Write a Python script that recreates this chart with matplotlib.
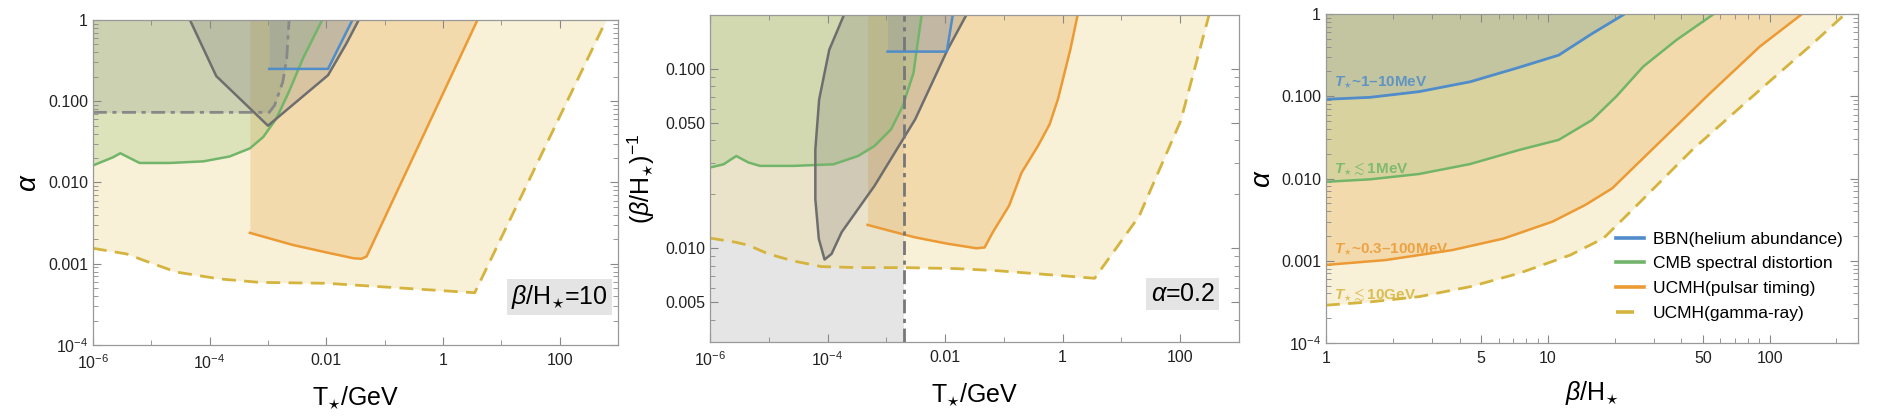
import numpy as np
import matplotlib
matplotlib.use('Agg')
import matplotlib.pyplot as plt
from matplotlib.ticker import FixedLocator, FixedFormatter, NullFormatter, LogLocator

plt.rcParams['font.family'] = ['Liberation Sans', 'DejaVu Sans']
plt.rcParams['mathtext.fontset'] = 'custom'
plt.rcParams['mathtext.rm'] = 'Liberation Sans'
plt.rcParams['mathtext.it'] = 'Liberation Sans:italic'
plt.rcParams['mathtext.bf'] = 'Liberation Sans:bold'
plt.rcParams['mathtext.bfit'] = 'Liberation Sans:italic:bold'

# ---- panel 1 : alpha vs T*, beta/H*=10 ----
p1_gamma_T = [1e-6, 3.8e-6, 8.3e-6, 2.7e-5, 1.5e-4, 7.2e-4, 1e-2, 0.14, 3.5, 630]
p1_gamma_a = [1.55e-3, 1.32e-3, 1.07e-3, 7.9e-4, 6.5e-4, 5.9e-4, 5.75e-4, 5.1e-4, 4.4e-4, 1.0]
p1_pulsar_T = [4.9e-4, 2.7e-3, 1.0e-2, 2.9e-2, 4.0e-2, 4.9e-2, 3.9]
p1_pulsar_a = [2.4e-3, 1.7e-3, 1.38e-3, 1.17e-3, 1.15e-3, 1.23e-3, 1.0]
p1_cmb_T = [1e-6, 2.2e-6, 2.95e-6, 6.3e-6, 2.1e-5, 7.8e-5, 2.2e-4, 4.9e-4, 8.3e-4,
            1.4e-3, 2.3e-3, 4.0e-3, 8.5e-3]
p1_cmb_a = [0.0162, 0.0204, 0.0229, 0.0174, 0.0174, 0.0182, 0.0209, 0.0263, 0.0363,
            0.0617, 0.132, 0.339, 1.0]
p1_gw_T = [4.6e-5, 1.3e-4, 1.0e-3, 1.07e-2, 2.2e-2, 3.6e-2]
p1_gw_a = [1.0, 0.204, 0.050, 0.209, 0.51, 1.0]
p1_bbn_T = [1.05e-3, 1.07e-2, 2.8e-2]
p1_bbn_a = [0.25, 0.25, 1.0]
p1_dd_T = [1e-6, 1.05e-3, 1.3e-3, 1.8e-3, 2.1e-3, 2.3e-3]
p1_dd_a = [0.073, 0.073, 0.089, 0.174, 0.34, 1.0]

# ---- panel 2 : (beta/H*)^-1 vs T*, alpha=0.2 ----
p2_gamma_T = [1e-6, 2.75e-6, 4.5e-6, 9.8e-6, 2.6e-5, 7.9e-5, 3.3e-4, 2.0e-3, 1.55e-2,
              7.6e-2, 0.38, 3.5, 20, 102, 310]
p2_gamma_y = [0.0114, 0.0108, 0.0104, 0.0093, 0.0085, 0.0079, 0.0078, 0.0078, 0.0077,
              0.0075, 0.0072, 0.0068, 0.0151, 0.0513, 0.2]
p2_pulsar_T = [4.8e-4, 1.4e-3, 3.1e-3, 1.1e-2, 3.4e-2, 4.7e-2, 6.5e-2, 0.123, 0.2,
               0.38, 0.6, 0.83, 1.35, 1.8]
p2_pulsar_y = [0.0135, 0.0123, 0.0115, 0.0106, 0.0100, 0.0101, 0.0123, 0.0173, 0.0264,
               0.0372, 0.0491, 0.0676, 0.128, 0.2]
p2_cmb_T = [1e-6, 1.7e-6, 2.8e-6, 4.5e-6, 7.1e-6, 2.6e-5, 1.26e-4, 3.3e-4, 6.3e-4,
            1.2e-3, 1.9e-3, 2.9e-3, 3.6e-3, 4.0e-3]
p2_cmb_y = [0.0282, 0.0294, 0.0327, 0.0301, 0.0288, 0.0288, 0.0294, 0.0327, 0.0372,
            0.046, 0.0621, 0.095, 0.158, 0.2]
p2_gw_T = [1.9e-4, 1.07e-4, 7.2e-5, 6.2e-5, 6.2e-5, 7.1e-5, 8.9e-5, 1.17e-4, 1.74e-4,
           6.3e-4, 3.1e-3, 1.1e-2, 2.3e-2]
p2_gw_y = [0.2, 0.128, 0.0676, 0.0356, 0.0188, 0.0113, 0.00865, 0.0093, 0.0123,
           0.0223, 0.0524, 0.128, 0.2]
p2_bbn_T = [1.05e-3, 1.07e-2, 1.35e-2]
p2_bbn_y = [0.125, 0.125, 0.2]
p2_dd_T = 2.0e-3

# ---- panel 3 : alpha vs beta/H* ----
p3_bbn_b = [1, 1.58, 2.63, 4.47, 7.41, 11.2, 15.8, 22.2]
p3_bbn_a = [0.0918, 0.097, 0.1138, 0.150, 0.224, 0.316, 0.575, 1.0]
p3_cmb_b = [1, 1.58, 2.63, 4.47, 7.41, 11.2, 15.8, 20.4, 26.9, 38.0, 56.0]
p3_cmb_a = [0.00912, 0.00977, 0.01135, 0.0150, 0.0222, 0.0295, 0.0513, 0.100, 0.229, 0.483, 1.0]
p3_pulsar_b = [1, 1.86, 3.72, 6.31, 10.5, 14.8, 19.5, 31.6, 53.7, 90.2, 140]
p3_pulsar_a = [8.9e-4, 1.02e-3, 1.35e-3, 1.86e-3, 2.99e-3, 4.79e-3, 7.59e-3, 0.0269,
               0.108, 0.401, 1.0]
p3_gamma_b = [1, 1.58, 2.63, 4.47, 7.41, 12.6, 17.8, 24.0, 44.7, 90.2, 151, 219]
p3_gamma_a = [2.88e-4, 3.16e-4, 3.66e-4, 4.84e-4, 7.03e-4, 1.17e-3, 1.87e-3, 4.14e-3,
              0.0222, 0.119, 0.401, 1.0]

legend_labels = ['BBN(helium abundance)', 'CMB spectral distortion',
                 'UCMH(pulsar timing)', 'UCMH(gamma-ray)']
curve_labels = [r'$\mathbfit{T}_{\star}$~1–10MeV', r'$\mathbfit{T}_{\star}\lesssim$1MeV',
                r'$\mathbfit{T}_{\star}$~0.3–100MeV', r'$\mathbfit{T}_{\star}\lesssim$10GeV']
label_y = [0.149, 0.0134, 0.00139, 0.00039]

# colours
c_blue, c_green, c_orange, c_gold, c_gray = '#4f8cc9', '#72b56a', '#eb9a34', '#d4b43e', '#6e6e6e'
f_yel, f_org, f_grn, f_blu = '#f2e2a8', '#eab060', '#9cc47c', '#6f8fb0'

fig = plt.figure(figsize=(19.04, 4.18), dpi=100)
ax1 = fig.add_axes([0.0488, 0.1746, 0.2758, 0.7776])
ax2 = fig.add_axes([0.3729, 0.1818, 0.2778, 0.7823])
ax3 = fig.add_axes([0.6964, 0.1794, 0.2794, 0.7871])


def style_axes(ax):
    ax.set_xscale('log')
    ax.set_yscale('log')
    ax.tick_params(which='both', direction='in', top=True, right=True,
                   colors='#888888', labelcolor='#222222', labelsize=11.5)
    ax.tick_params(which='major', length=6, width=0.8)
    ax.tick_params(which='minor', length=3.5, width=0.6)
    ax.tick_params(axis='x', which='major', pad=6)
    for s in ax.spines.values():
        s.set_color('#999999')
        s.set_linewidth(0.9)


def temp_xaxis(ax):
    ax.set_xlim(1e-6, 1e3)
    ax.xaxis.set_major_locator(FixedLocator([1e-6, 1e-4, 1e-2, 1, 100]))
    ax.xaxis.set_major_formatter(FixedFormatter([r'$10^{-6}$', r'$10^{-4}$', '0.01', '1', '100']))
    ax.xaxis.set_minor_locator(FixedLocator([1e-5, 1e-3, 1e-1, 10, 1000]))
    ax.xaxis.set_minor_formatter(NullFormatter())
    ax.set_xlabel(r'T$_{\star}$/GeV', fontsize=18, labelpad=9)


def alpha_yaxis(ax):
    ax.set_ylim(1e-4, 1)
    ax.yaxis.set_major_locator(FixedLocator([1e-4, 1e-3, 1e-2, 1e-1, 1]))
    ax.yaxis.set_major_formatter(FixedFormatter([r'$10^{-4}$', '0.001', '0.010', '0.100', '1']))
    ax.yaxis.set_minor_locator(LogLocator(base=10, subs=np.arange(2, 10), numticks=20))
    ax.yaxis.set_minor_formatter(NullFormatter())


# ---------------- panel 1 ----------------
ax = ax1
style_axes(ax)
ax.fill_between(p1_gamma_T, p1_gamma_a, 1, color=f_yel, alpha=0.45, lw=0)
ax.fill_between(p1_pulsar_T, p1_pulsar_a, 1, color=f_org, alpha=0.35, lw=0)
ax.fill_between(p1_cmb_T, p1_cmb_a, 1, color=f_grn, alpha=0.3, lw=0)
ax.fill_between(p1_dd_T, p1_dd_a, 1, color='#808080', alpha=0.17, lw=0)
ax.fill_between(p1_gw_T, p1_gw_a, 1, color='#707070', alpha=0.2, lw=0)
ax.fill_between(p1_bbn_T, p1_bbn_a, 1, color=f_blu, alpha=0.2, lw=0)
ax.plot(p1_gamma_T, p1_gamma_a, color=c_gold, lw=2, dashes=(5, 3))
ax.plot(p1_pulsar_T, p1_pulsar_a, color=c_orange, lw=1.8)
ax.plot(p1_cmb_T, p1_cmb_a, color=c_green, lw=1.8)
ax.plot(p1_dd_T, p1_dd_a, color='#888888', lw=2, dashes=(5, 2, 1.5, 2))
ax.plot(p1_gw_T, p1_gw_a, color=c_gray, lw=1.8)
ax.plot(p1_bbn_T, p1_bbn_a, color=c_blue, lw=1.8)
temp_xaxis(ax)
alpha_yaxis(ax)
ax.set_ylabel(r'$\alpha$', fontsize=20, labelpad=4)
ax.text(0.888, 0.148, r'$\beta$/H$_{\star}$=10', transform=ax.transAxes, fontsize=18,
        ha='center', va='center', bbox=dict(facecolor='#e4e4e4', edgecolor='none', pad=3))

# ---------------- panel 2 ----------------
ax = ax2
style_axes(ax)
ax.axvspan(1e-6, p2_dd_T, color='#e5e5e5', lw=0)
ax.fill_between(p2_gamma_T, p2_gamma_y, 1, color=f_yel, alpha=0.45, lw=0)
ax.fill_between(p2_pulsar_T, p2_pulsar_y, 1, color=f_org, alpha=0.35, lw=0)
ax.fill_between(p2_cmb_T, p2_cmb_y, 1, color=f_grn, alpha=0.3, lw=0)
ax.fill(p2_gw_T, p2_gw_y, color='#707070', alpha=0.22, lw=0)
ax.fill_between(p2_bbn_T, p2_bbn_y, 1, color=f_blu, alpha=0.2, lw=0)
ax.plot(p2_gamma_T, p2_gamma_y, color=c_gold, lw=2, dashes=(5, 3))
ax.plot(p2_pulsar_T, p2_pulsar_y, color=c_orange, lw=1.8)
ax.plot(p2_cmb_T, p2_cmb_y, color=c_green, lw=1.8)
ax.plot(p2_gw_T, p2_gw_y, color=c_gray, lw=1.8)
ax.plot(p2_bbn_T, p2_bbn_y, color=c_blue, lw=1.8)
ax.axvline(p2_dd_T, color='#777777', lw=2, dashes=(5, 2, 1.5, 2))
temp_xaxis(ax)
ax.set_ylim(0.003, 0.2)
ax.yaxis.set_major_locator(FixedLocator([0.005, 0.01, 0.05, 0.1]))
ax.yaxis.set_major_formatter(FixedFormatter(['0.005', '0.010', '0.050', '0.100']))
ax.yaxis.set_minor_locator(FixedLocator([0.003, 0.004, 0.006, 0.007, 0.008, 0.009,
                                         0.02, 0.03, 0.04, 0.06, 0.07, 0.08, 0.09, 0.2]))
ax.yaxis.set_minor_formatter(NullFormatter())
ax.set_ylabel(r'$(\beta/\mathrm{H}_{\star})^{-1}$', fontsize=18, labelpad=6)
ax.text(0.894, 0.147, r'$\alpha$=0.2', transform=ax.transAxes, fontsize=18,
        ha='center', va='center', bbox=dict(facecolor='#e4e4e4', edgecolor='none', pad=3))

# ---------------- panel 3 ----------------
ax = ax3
style_axes(ax)
ax.fill_between(p3_gamma_b, p3_gamma_a, 1, color=f_yel, alpha=0.45, lw=0)
ax.fill_between(p3_pulsar_b, p3_pulsar_a, 1, color=f_org, alpha=0.35, lw=0)
ax.fill_between(p3_cmb_b, p3_cmb_a, 1, color=f_grn, alpha=0.3, lw=0)
ax.fill_between(p3_bbn_b, p3_bbn_a, 1, color=f_blu, alpha=0.2, lw=0)
h_b, = ax.plot(p3_bbn_b, p3_bbn_a, color=c_blue, lw=2)
h_c, = ax.plot(p3_cmb_b, p3_cmb_a, color=c_green, lw=1.8)
h_p, = ax.plot(p3_pulsar_b, p3_pulsar_a, color=c_orange, lw=1.8)
h_g, = ax.plot(p3_gamma_b, p3_gamma_a, color=c_gold, lw=2, dashes=(5, 3))
ax.set_xlim(1, 250)
ax.xaxis.set_major_locator(FixedLocator([1, 5, 10, 50, 100]))
ax.xaxis.set_major_formatter(FixedFormatter(['1', '5', '10', '50', '100']))
ax.xaxis.set_minor_locator(FixedLocator([2, 3, 4, 6, 7, 8, 9, 20, 30, 40, 60, 70, 80, 90, 200]))
ax.xaxis.set_minor_formatter(NullFormatter())
alpha_yaxis(ax)
ax.set_xlabel(r'$\beta$/H$_{\star}$', fontsize=18, labelpad=9)
ax.set_ylabel(r'$\alpha$', fontsize=20, labelpad=4)
label_c = [c_blue, c_green, c_orange, c_gold]
for txt, yy, cc in zip(curve_labels, label_y, label_c):
    ax.text(1.09, yy, txt, color=cc, fontsize=11, fontweight='bold', alpha=0.85,
            ha='left', va='center')
leg = ax.legend([h_b, h_c, h_p, h_g], legend_labels, loc='lower right',
                bbox_to_anchor=(1.0, 0.02), frameon=False, fontsize=12.5,
                handlelength=1.6, handletextpad=0.5, labelspacing=0.55)
for h in leg.legend_handles:
    h.set_linewidth(2.6)

fig.savefig('out.png', dpi=100)
